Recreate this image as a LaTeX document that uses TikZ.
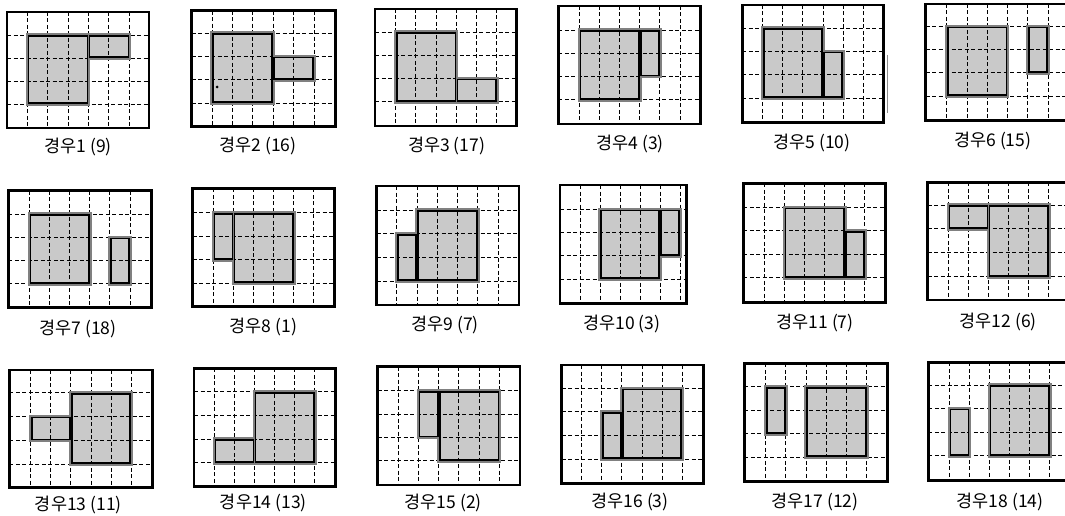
\documentclass[tikz,border=0pt]{standalone}
\usepackage{fontspec}
\newfontfamily\kr{Noto Sans CJK KR}
\begin{document}
\begin{tikzpicture}[x=1pt,y=-1pt,
  frm/.style={line width=2.8pt},
  gl/.style={line width=0.9pt, dash pattern=on 4pt off 2.5pt},
  sfill/.style={fill=black!21},
  ob/.style={draw=black!50, line width=3.6pt},
  ib/.style={draw=black, line width=1.6pt},
  lab/.style={font=\kr\fontsize{17.5}{20}\selectfont, inner sep=0pt}]
\clip (0,0) rectangle (1065,516);
\fill[white] (0,0) rectangle (1065,516);
\foreach \n/\fl/\ft/\fr/\fb/\vx/\dx/\hy/\dy/\bc/\ca/\ra/\cb/\rb/\cnt/\lx/\ly in {
1/7/12/149/128/27.3/20.4/35/23.1/1/4/1/6/2/9/78/147,
2/191.7/10.7/335.7/126.7/212/20.4/33.3/23.3/1/4/2/6/3/16/258/146,
3/375/9/516.7/126/395.7/20.2/32.3/23.2/1/4/3/6/4/17/446.7/145.7,
4/558.3/6/700.7/124/579.3/20.15/30/23.3/1/4/1/5/3/3/630/144,
5/742.3/5/883.3/122.7/762.7/20.1/28.3/23.3/1/4/2/5/4/10/812/142.7,
6/925.7/4/1068/120.7/946.7/20.3/26.7/23.1/1/5/1/6/3/15/992.7/140.7,
7/8.3/190.7/151.7/307.7/29.3/20.15/214/23.3/1/5/2/6/4/18/78/329.3,
8/192.7/188.3/334.3/306.7/213.3/20.1/212.7/23.5/2/1/1/2/3/1/263.3/326.7,
9/376.7/186/519/305/396.7/20.3/210/23.7/2/1/2/2/4/7/445/325,
10/560/185/686.7/303.3/580/20/209.3/23.3/2/5/1/6/3/3/621.7/324,
11/743.3/183.3/885.7/302.3/764.3/20.1/207.3/23.5/2/5/2/6/4/7/815/323.3,
12/927.7/182.3/1068/300/948.3/20.1/205/23.9/3/1/1/3/2/6/998.3/321.7,
13/9.3/370/152.3/487.7/30.7/20.1/392.7/23.8/3/1/2/3/3/11/78.3/505,
14/194/368.3/335.7/486.7/214.3/20.1/391.7/23.7/3/1/3/3/4/13/263.3/503.3,
15/377.7/366.7/520/485/398.3/20.2/390.7/23.4/3/2/1/3/3/2/443.3/503.3,
16/561.7/365/703.3/483.3/581.7/20.1/388.3/23.6/3/2/2/3/4/3/630/502.3,
17/744.3/363.3/887.3/481.7/765.7/20.2/386.7/23.5/3/1/1/2/3/12/815/502.3,
18/928.3/362.3/1068/480.7/949.3/20.1/385/23.6/3/1/2/2/4/14/1000/501.7}{
  % shaded fills
  \fill[sfill] ({\vx+(\bc-1)*\dx},\hy) rectangle ({\vx+(\bc+2)*\dx},{\hy+3*\dy});
  \fill[sfill] ({\vx+(\ca-1)*\dx},{\hy+(\ra-1)*\dy}) rectangle ({\vx+(\cb-1)*\dx},{\hy+(\rb-1)*\dy});
  % dashed grid
  \foreach \i in {0,...,5} {\draw[gl] ({\vx+\i*\dx},\ft) -- ({\vx+\i*\dx},\fb);}
  \foreach \j in {0,...,3} {\draw[gl] (\fl,{\hy+\j*\dy}) -- (\fr,{\hy+\j*\dy});}
  % double borders
  \draw[ob] ({\vx+(\bc-1)*\dx},\hy) rectangle ({\vx+(\bc+2)*\dx},{\hy+3*\dy});
  \draw[ob] ({\vx+(\ca-1)*\dx},{\hy+(\ra-1)*\dy}) rectangle ({\vx+(\cb-1)*\dx},{\hy+(\rb-1)*\dy});
  \draw[ib] ({\vx+(\bc-1)*\dx+1},{\hy+1}) rectangle ({\vx+(\bc+2)*\dx-1},{\hy+3*\dy-1});
  \draw[ib] ({\vx+(\ca-1)*\dx+1},{\hy+(\ra-1)*\dy+1}) rectangle ({\vx+(\cb-1)*\dx-1},{\hy+(\rb-1)*\dy-1});
  % frame
  \draw[frm] (\fl,\ft) rectangle (\fr,\fb);
  \node[lab] (lab\n) at (\lx,\ly) {경우\n{} (\cnt)};
}
% small marks visible in the scan
\fill (217,87) circle (1.5);
\draw[black!45, line width=1pt] (887,55) -- (887,113);
\end{tikzpicture}
\end{document}
